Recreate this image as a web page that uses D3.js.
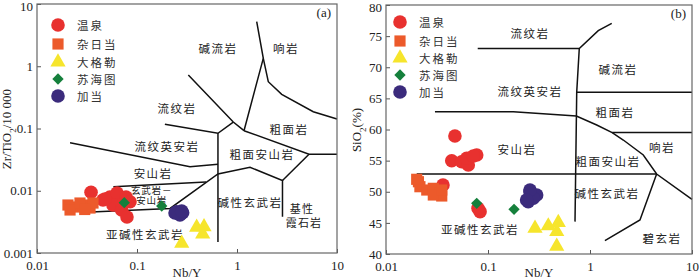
<!DOCTYPE html>
<html><head><meta charset="utf-8">
<script src="https://cdn.jsdelivr.net/npm/d3@7"></script>
<style>
body{margin:0;background:#fff;}
svg{display:block;}
.tick text{font-family:"Liberation Serif","Times New Roman",serif;font-size:13px;fill:#222;}
.cn{font-family:"Noto Sans CJK SC",sans-serif;font-size:11.5px;fill:#222;letter-spacing:1.5px;}
.lg{font-family:"Noto Sans CJK SC",sans-serif;font-size:11.5px;fill:#333;letter-spacing:2px;}
.ser{font-family:"Liberation Serif","Times New Roman",serif;font-size:13px;fill:#222;}
</style></head>
<body>
<script>
// ---------- data ----------
const seriesNames = ["温泉","杂日当","大格勒","苏海图","加当"];
const seriesColors = ["#e8312f","#ec5a2b","#f6e52c","#15803c","#3b2b7c"];
const seriesShapes = ["circle","square","triangle","diamond","circle"];

// panel (a): Nb/Y vs Zr/TiO2/10000
const aWenquan = [[0.0347,0.00944],[0.0457,0.0071],[0.0537,0.00794],[0.0631,0.0092],[0.0776,0.00794],[0.0631,0.0059],[0.0575,0.0059],[0.0703,0.00491],[0.0851,0.00667],[0.0794,0.00379],[0.0479,0.00736]];
const aZaridang = [[0.0204,0.0059],[0.024,0.00548],[0.0288,0.0059],[0.0339,0.00528],[0.0214,0.00491],[0.0269,0.00635],[0.0363,0.00635],[0.0300,0.0050]];
const aDagele = [[0.395,0.00259],[0.468,0.00264],[0.454,0.00202],[0.28,0.00143]];
const aSuhaitu = [[0.0746,0.00643],[0.1767,0.00569]];
const aJiadang = [[0.249,0.0046],[0.286,0.00444],[0.269,0.00407],[0.240,0.0044],[0.28,0.0047]];

// panel (b): Nb/Y vs SiO2
const bWenquan = [[0.0474,58.96],[0.0441,54.99],[0.0552,54.83],[0.0641,54.3],[0.0775,55.9],[0.0618,55.37],[0.0718,55.74],[0.0836,46.8],[0.0798,47.34],[0.0362,51.08]];
const bZaridang = [[0.0208,51.61],[0.0215,50.81],[0.0251,50.28],[0.0291,50.55],[0.0338,49.75],[0.0352,49.32],[0.0291,49.48],[0.020,52.0],[0.0352,50.28]];
const bDagele = [[0.289,44.13],[0.39,44.5],[0.489,45.06],[0.472,43.58],[0.472,41.24]];
const bSuhaitu = [[0.0775,48.14],[0.18,47.18]];
const bJiadang = [[0.258,50.01],[0.30,49.48],[0.248,48.4],[0.278,48.95],[0.258,50.28],[0.239,48.67]];

// boundaries (a)
const aLines = [
  [[0.19,0.117],[0.645,0.0837],[0.918,0.127]],
  [[0.326,0.724],[0.918,0.127],[1.175,0.0922]],
  [[1.574,5.2],[1.832,1.34],[1.175,0.0922]],
  [[1.832,1.34],[2.056,0.565],[2.80,0.354],[5.79,0.186],[10,0.142]],
  [[1.175,0.0922],[5.25,0.0385],[10,0.0385]],
  [[5.25,0.0385],[2.85,0.01462]],
  [[0.645,0.0837],[0.645,0.0015]],
  [[0.0214,0.0592],[0.339,0.0243],[0.645,0.0266]],
  [[0.058,0.01161],[0.49,0.01384]],
  [[0.0269,0.00448],[0.214,0.00519],[0.645,0.01858],[1.349,0.0238],[2.85,0.01462],[2.85,0.00383]]
];
// boundaries (b)
const bLines = [
  [[0.0793,73],[0.785,73],[1.205,75.87],[1.633,77.06]],
  [[0.785,73],[0.741,66],[0.713,45.2]],
  [[0.741,66],[10,66]],
  [[0.0302,62.86],[0.177,62.86],[0.735,62.17],[1.164,60.72],[1.65,59.5],[2.12,58.31],[3.33,55.9],[4.5,52.85],[10,48.79]],
  [[1.65,59.5],[10,59.5]],
  [[0.02,52.85],[4.5,52.85]],
  [[4.5,52.85],[3.09,45.46],[1.40,42.14]]
];

// labels [text, x, y]
const aLabels = [["碱流岩",0.646,1.96],["响岩",3.09,1.96],["流纹岩",0.251,0.213],["粗面岩",3.31,0.098],["流纹英安岩",0.20,0.052],
  ["粗面安山岩",1.78,0.0389],["安山岩",0.145,0.0195],["碱性玄武岩",1.35,0.0066],["亚碱性玄武岩",0.12,0.00202]];
const aSmallLabels = [["玄武岩－",0.14,0.0104],["安山岩",0.14,0.0072]];
const aStackLabels = [["基性",4.47,0.0053],["霞石岩",4.68,0.0031]];
const bLabels = [["流纹岩",0.258,75.5],["碱流岩",1.88,69.7],["流纹英安岩",0.258,66.2],["粗面岩",1.76,62.8],["安山岩",0.192,56.87],
  ["响岩",5.08,57.2],["粗面安山岩",1.5,54.94],["碱性玄武岩",1.47,49.8],["亚碱性玄武岩",0.0836,44.0],["碧玄岩",5.08,42.57]];

const aTicksX = [0.01,0.1,1,10];
const aTickLabelsX = ["0.01","0.1","1","10"];
const aTicksY = [0.001,0.01,0.1,1,10];
const aTickLabelsY = ["0.001","0.01","0.1","1","10"];
const bTicksY = [40,45,50,55,60,65,70,75,80];

// ---------- drawing ----------
const W=700,H=279;
const svg=d3.select("body").append("svg").attr("width",W).attr("height",H);

function marker(g, shape, color, x, y, k){
  k = k||1;
  let path;
  if(shape==="circle") path=d3.symbol(d3.symbolCircle, 145*k)();
  else if(shape==="square") path=d3.symbol(d3.symbolSquare, 125*k)();
  else if(shape==="triangle") path=d3.symbol(d3.symbolTriangle, 100*k)();
  else path=d3.symbol(d3.symbolSquare, 64*k)();
  return g.append("path").attr("d",path).attr("fill",color)
    .attr("transform",`translate(${x},${y})`+(shape==="diamond"?" rotate(45)":""));
}

function addLabels(g, x, y, data, size, spacing){
  g.selectAll(null).data(data).join("text").attr("class","cn")
    .style("font-size",size+"px").style("letter-spacing",spacing+"px")
    .attr("x",d=>x(d[1])).attr("y",d=>y(d[2])).attr("text-anchor","middle").attr("dominant-baseline","central").text(d=>d[0]);
}

function panel(opt){
  const g=svg.append("g");
  const x=opt.x, y=opt.y;
  const [x0,x1]=x.range(), [y0,y1]=y.range();
  const line=d3.line().x(d=>x(d[0])).y(d=>y(d[1]));
  g.selectAll(null).data(opt.lines).join("path").attr("d",line)
    .attr("fill","none").attr("stroke","#111").attr("stroke-width",1.5).attr("stroke-linejoin","miter");
  addLabels(g, x, y, opt.labels, 11.5, 1.5);
  if(opt.small) addLabels(g, x, y, opt.small, 9.5, 0.8);
  if(opt.stack) addLabels(g, x, y, opt.stack, 11, 1.2);
  opt.series.forEach((s,i)=>{
    s.forEach(d=>marker(g, seriesShapes[i], seriesColors[i], x(d[0]), y(d[1])));
  });
  const ax=g.append("g").attr("transform",`translate(0,${y0})`)
    .call(d3.axisBottom(x).tickValues(aTicksX).tickFormat((d,i)=>aTickLabelsX[i]).tickSize(-4).tickPadding(8));
  ax.select(".domain").remove();
  ax.selectAll(".tick line").attr("stroke","#555");
  const ay=g.append("g").attr("transform",`translate(${x0},0)`)
    .call(d3.axisLeft(y).tickValues(opt.yTicks).tickFormat((d,i)=>opt.yLabels[i]).tickSize(-4).tickPadding(4));
  ay.select(".domain").remove();
  ay.selectAll(".tick line").attr("stroke","#555");
  ay.selectAll(".tick text").filter(d=>d===opt.yTicks[opt.yTicks.length-1]).attr("dy","0.5em");
  g.append("rect").attr("x",x0).attr("y",y1).attr("width",x1-x0).attr("height",y0-y1)
    .attr("fill","none").attr("stroke","#666").attr("stroke-width",1.2);
  g.append("text").attr("class","ser").attr("x",(x0+x1)/2).attr("y",277).attr("text-anchor","middle").text("Nb/Y");
  g.append("text").attr("class","ser").attr("x",x1-6).attr("y",y1+13).attr("text-anchor","end").text(opt.tag);
  seriesNames.forEach((n,i)=>{
    const ly=opt.legY[i];
    marker(g, seriesShapes[i], seriesColors[i], opt.legX, ly);
    g.append("text").attr("class","lg").attr("x",opt.legX+19).attr("y",ly).attr("dominant-baseline","central").text(n);
  });
  return g;
}

const xa=d3.scaleLog().domain([0.01,10]).range([37,337]);
const ya=d3.scaleLog().domain([0.001,10]).range([253,4]);
panel({x:xa,y:ya,lines:aLines,labels:aLabels,small:aSmallLabels,stack:aStackLabels,
  series:[aWenquan,aZaridang,aDagele,aSuhaitu,aJiadang],yTicks:aTicksY,yLabels:aTickLabelsY,tag:"(a)",
  legX:58,legY:[25,44,62,79,96]});
const xb=d3.scaleLog().domain([0.01,10]).range([386,692]);
const yb=d3.scaleLinear().domain([40,80]).range([254,5]);
panel({x:xb,y:yb,lines:bLines,labels:bLabels,
  series:[bWenquan,bZaridang,bDagele,bSuhaitu,bJiadang],yTicks:bTicksY,yLabels:bTicksY.map(String),tag:"(b)",
  legX:400,legY:[22,41,58,75,92]});

const t1=svg.append("text").attr("class","ser").attr("transform","translate(11,129) rotate(-90)").attr("text-anchor","middle");
t1.append("tspan").text("Zr/TiO");
t1.append("tspan").attr("baseline-shift","sub").style("font-size","9px").text("2");
t1.append("tspan").text("/10 000");
const t2=svg.append("text").attr("class","ser").attr("transform","translate(361,130) rotate(-90)").attr("text-anchor","middle");
t2.append("tspan").text("SiO");
t2.append("tspan").attr("baseline-shift","sub").style("font-size","9px").text("2");
t2.append("tspan").text("(%)");
</script>
</body></html>
